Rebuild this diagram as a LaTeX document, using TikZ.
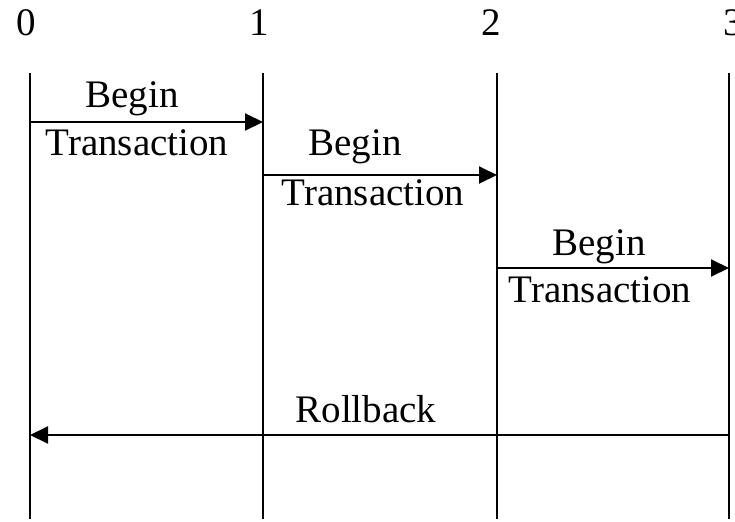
\documentclass[tikz,border=0pt]{standalone}
\usepackage{fontspec}
\setmainfont{Liberation Serif}
\usetikzlibrary{arrows.meta}

\begin{document}
\begin{tikzpicture}[x=0.5pt, y=-0.5pt, line width=1pt,
    lbl/.style={anchor=base, inner sep=0pt, font=\fontsize{19.5}{23}\selectfont},
    msg/.style={-{Triangle[length=9pt,width=8.5pt]}}]
    \useasboundingbox (0,0) rectangle (735,521);

    % Time marks and lifelines
    \foreach \i/\x in {0/26,1/259,2/491,3/733} {
        \node[lbl] (t\i) at (\x,35) {\i};
    }
    \foreach \i/\x in {0/30,1/263,2/497,3/729} {
        \coordinate (top\i) at (\x,73);
        \coordinate (bot\i) at (\x,519);
        \draw (top\i) -- (bot\i);
    }

    % Message ends
    \coordinate (a0) at (30,122);  \coordinate (a1) at (263,122);
    \coordinate (b1) at (263,175); \coordinate (b2) at (497,175);
    \coordinate (c2) at (497,268); \coordinate (c3) at (729,268);
    \coordinate (r3) at (729,435); \coordinate (r0) at (30,435);

    % Messages
    \draw[msg] (a0) -- (a1);
    \draw[msg] (b1) -- (b2);
    \draw[msg] (c2) -- (c3);
    \draw[msg] (r3) -- (r0);

    % Labels
    \node[lbl] (begA) at (132,107) {Begin};
    \node[lbl] (trA) at (137,155) {Transaction};
    \node[lbl] (begB) at (355,155) {Begin};
    \node[lbl] (trB) at (373,205) {Transaction};
    \node[lbl] (begC) at (599,255) {Begin};
    \node[lbl] (trC) at (600,302) {Transaction};
    \node[lbl] (rb) at (366,422) {Rollback};
\end{tikzpicture}
\end{document}
